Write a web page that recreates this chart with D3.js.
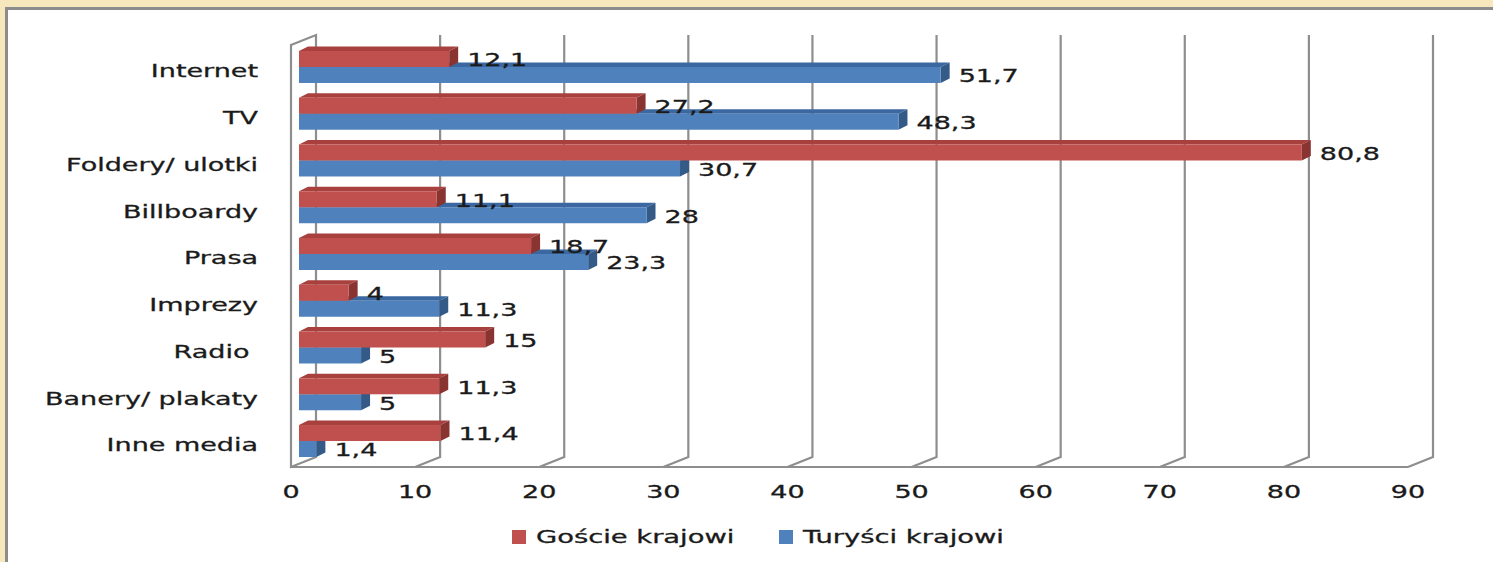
<!DOCTYPE html>
<html>
<head>
<meta charset="utf-8">
<script src="https://cdn.jsdelivr.net/npm/d3@7"></script>
<style>
  body { margin: 0; background: #f6e8bc; }
  svg { display: block; }
  text { font-family: "DejaVu Sans", Verdana, sans-serif; fill: #1a1a1a; stroke: #1a1a1a; stroke-width: 0.3; }
</style>
</head>
<body>
<svg id="chart" width="1493" height="562"></svg>
<script>
// data
const categories = ['Internet', 'TV', 'Foldery/ ulotki', 'Billboardy', 'Prasa', 'Imprezy', 'Radio ', 'Banery/ plakaty', 'Inne media'];
const goscie = [12.1, 27.2, 80.8, 11.1, 18.7, 4, 15, 11.3, 11.4];
const turysci = [51.7, 48.3, 30.7, 28, 23.3, 11.3, 5, 5, 1.4];
const seriesNames = ['Goście krajowi', 'Turyści krajowi'];
const xTicks = [0, 10, 20, 30, 40, 50, 60, 70, 80, 90];

const colors = {
    'Goście krajowi': { front: '#c0504d', top: '#a8403e', side: '#8a3432' },
    'Turyści krajowi': { front: '#4f81bd', top: '#3b68a0', side: '#345a88' }
};

const svg = d3.select('#chart');

// frame
svg.append('rect')
    .attr('x', 6.5).attr('y', 8.5)
    .attr('width', 1500).attr('height', 600)
    .attr('fill', '#fff')
    .attr('stroke', '#8c8c8c')
    .attr('stroke-width', 3);

// perspective offsets of back wall
const DX = 25, DY = -10;
// bar depth
const BDX = 9, BDY = -4.5;
const BAR_SHIFT = 8;

const x = d3.scaleLinear().domain([0, 90]).range([291, 1408]);

const y = d3.scaleBand()
    .domain(categories)
    .range([43.6, 464.4])
    .paddingInner(0.316)
    .paddingOuter(0.158);

const ys = d3.scaleBand()
    .domain(seriesNames)
    .range([0, y.bandwidth()]);

const FLOOR = 467, TOP = 45;

const grid = svg.append('g')
    .attr('fill', 'none')
    .attr('stroke', '#8e8e8e')
    .attr('stroke-width', 2.2);

// left wall
grid.append('path')
    .attr('d', `M${x(0)},${FLOOR} L${x(0)},${TOP} L${x(0) + DX},${TOP + DY} L${x(0) + DX},${FLOOR + DY} Z`);

// floor front edge
grid.append('line')
    .attr('x1', x(0)).attr('x2', x(90))
    .attr('y1', FLOOR).attr('y2', FLOOR);

// back gridlines
grid.selectAll('path.gl')
    .data(xTicks.slice(1))
    .join('path')
    .attr('class', 'gl')
    .attr('d', d => `M${x(d) + DX},${TOP + DY} L${x(d) + DX},${FLOOR + DY} L${x(d)},${FLOOR}`);

// x tick labels
svg.append('g').selectAll('text')
    .data(xTicks)
    .join('text')
    .attr('transform', d => `translate(${x(d)},${492}) scale(1.5,1)`)
    .attr('text-anchor', 'middle')
    .attr('dominant-baseline', 'central')
    .attr('font-size', 18)
    .text(d => d);

// category labels
svg.append('g').selectAll('text')
    .data(categories)
    .join('text')
    .attr('transform', d => `translate(258,${y(d) + y.bandwidth() / 2 + 4}) scale(1.5,1)`)
    .attr('text-anchor', 'end')
    .attr('dominant-baseline', 'central')
    .attr('font-size', 18)
    .style('white-space', 'pre')
    .text(d => d);

// bars
const rows = [];
categories.forEach((c, i) => {
    rows.push({ cat: c, s: 'Turyści krajowi', v: turysci[i] });
    rows.push({ cat: c, s: 'Goście krajowi', v: goscie[i] });
});

const xb = v => x(v) + BAR_SHIFT;

const bars = svg.append('g').selectAll('g')
    .data(rows)
    .join('g');

bars.each(function(d) {
    const g = d3.select(this);
    const x0 = xb(0), x1 = xb(d.v);
    const y0 = y(d.cat) + ys(d.s), h = ys.bandwidth();
    const col = colors[d.s];
    // top face
    g.append('path')
        .attr('d', `M${x0},${y0} L${x0 + BDX},${y0 + BDY} L${x1 + BDX},${y0 + BDY} L${x1},${y0} Z`)
        .attr('fill', col.top);
    // side face
    g.append('path')
        .attr('d', `M${x1},${y0} L${x1 + BDX},${y0 + BDY} L${x1 + BDX},${y0 + h + BDY} L${x1},${y0 + h} Z`)
        .attr('fill', col.side);
    // front face
    g.append('rect')
        .attr('x', x0).attr('y', y0)
        .attr('width', x1 - x0).attr('height', h)
        .attr('fill', col.front);
});

// value labels
svg.append('g').selectAll('text')
    .data(rows)
    .join('text')
    .attr('transform', d => `translate(${xb(d.v) + 18},${y(d.cat) + ys(d.s) + ys.bandwidth() / 2 + 1}) scale(1.5,1)`)
    .attr('dominant-baseline', 'central')
    .attr('font-size', 18)
    .text(d => String(d.v).replace('.', ','));

// legend
const legendX = [512, 779];
const legend = svg.append('g').selectAll('g')
    .data(seriesNames)
    .join('g')
    .attr('transform', (d, i) => `translate(${legendX[i]},530)`);
legend.append('rect')
    .attr('width', 14).attr('height', 14)
    .attr('fill', d => colors[d].front);
legend.append('text')
    .attr('transform', 'translate(24,7) scale(1.52,1)')
    .attr('dominant-baseline', 'central')
    .attr('font-size', 18)
    .text(d => d);
</script>
</body>
</html>
